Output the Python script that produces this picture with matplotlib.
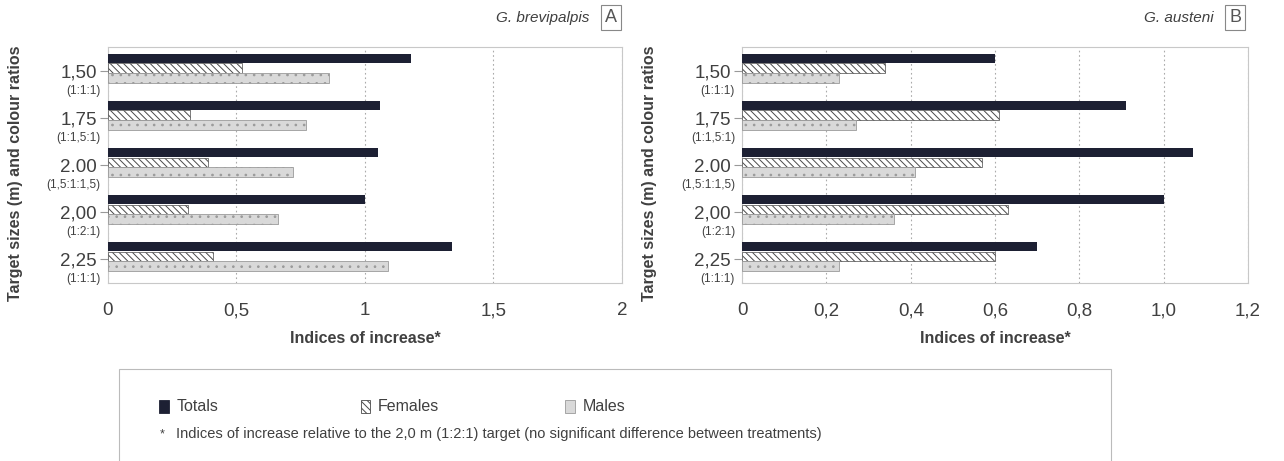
import matplotlib
matplotlib.use("Agg")
import matplotlib.pyplot as plt
import matplotlib.transforms as mtransforms
from matplotlib.patches import Rectangle

plt.rcParams["font.family"] = ["Liberation Sans", "DejaVu Sans"]
plt.rcParams["hatch.linewidth"] = 0.7

# data ---------------------------------------------------------------
sizes_a = ["1,50", "1,75", "2.00", "2,00", "2,25"]
sizes_b = ["1,50", "1,75", "2.00", "2,00", "2,25"]
ratios = ["(1:1:1)", "(1:1,5:1)", "(1,5:1:1,5)", "(1:2:1)", "(1:1:1)"]

totals_a = [1.18, 1.06, 1.05, 1.00, 1.34]
females_a = [0.52, 0.32, 0.39, 0.31, 0.41]
males_a = [0.86, 0.77, 0.72, 0.66, 1.09]

totals_b = [0.60, 0.91, 1.07, 1.00, 0.70]
females_b = [0.34, 0.61, 0.57, 0.63, 0.60]
males_b = [0.23, 0.27, 0.41, 0.36, 0.23]

xticks_a = [0, 0.5, 1, 1.5, 2]
xticklabels_a = ["0", "0,5", "1", "1,5", "2"]
xticks_b = [0, 0.2, 0.4, 0.6, 0.8, 1.0, 1.2]
xticklabels_b = ["0", "0,2", "0,4", "0,6", "0,8", "1,0", "1,2"]

C_TOTAL = "#1d2033"
C_FEMALE_EDGE = "#4a4a4a"
C_MALE = "#d9d9d9"
C_MALE_EDGE = "#9a9a9a"
C_TEXT = "#404040"
HATCH_F = "\\\\\\\\\\"


def draw_panel(ax, sizes, totals, females, males, xticks, xticklabels, xmax):
	pos = list(range(len(sizes)))
	off = 0.21
	h = 0.2
	ax.barh([p - off for p in pos], totals, height=h, color=C_TOTAL, zorder=3)
	ax.barh(pos, females, height=h, color="white", edgecolor=C_FEMALE_EDGE,
		hatch=HATCH_F, linewidth=0.5, zorder=3)
	ax.barh([p + off for p in pos], males, height=h, color=C_MALE,
		edgecolor=C_MALE_EDGE, hatch="..", linewidth=0.6, zorder=3)
	ax.set_xlim(0, xmax)
	ax.set_ylim(4.57, -0.45)
	ax.set_xticks(xticks)
	ax.set_xticklabels(xticklabels, fontsize=13.5, color=C_TEXT)
	ax.set_yticks([p + 0.06 for p in pos])
	ax.set_yticklabels(sizes, fontsize=13.5, color=C_TEXT)
	ax.tick_params(axis="x", length=0, pad=14)
	ax.tick_params(axis="y", length=6, color="#999", pad=2)
	trans = mtransforms.blended_transform_factory(ax.transAxes, ax.transData)
	for p, r in zip(pos, ratios):
		ax.text(-0.014, p + 0.48, r, transform=trans, ha="right", va="center",
			fontsize=8.5, color=C_TEXT)
	ax.grid(axis="x", color="#aaaaaa", linestyle=(0, (1.5, 2.5)), linewidth=0.8, zorder=0)
	for s in ax.spines.values():
		s.set_color("#c8c8c8")
		s.set_linewidth(0.8)
	ax.set_xlabel("Indices of increase*", fontsize=11.5, fontweight="bold",
		color=C_TEXT, labelpad=8)


fig = plt.figure(figsize=(12.84, 4.61), dpi=100)
ax_a = fig.add_axes([0.0841, 0.386, 0.4003, 0.512])
ax_b = fig.add_axes([0.578, 0.386, 0.394, 0.512])

draw_panel(ax_a, sizes_a, totals_a, females_a, males_a, xticks_a, xticklabels_a, 2)
draw_panel(ax_b, sizes_b, totals_b, females_b, males_b, xticks_b, xticklabels_b, 1.2)

fig.text(0.012, 0.625, "Target sizes (m) and colour ratios", rotation=90,
	ha="center", va="center", fontsize=11.5, fontweight="bold", color=C_TEXT)
fig.text(0.506, 0.625, "Target sizes (m) and colour ratios", rotation=90,
	ha="center", va="center", fontsize=11.5, fontweight="bold", color=C_TEXT)

# panel titles with boxed letters
for x_letter, name, letter in [(0.476, "G. brevipalpis", "A"), (0.962, "G. austeni", "B")]:
	fig.text(x_letter, 0.962, letter, ha="center", va="center", fontsize=13,
		color="#555", bbox=dict(boxstyle="square,pad=0.22", fc="white", ec="#888", lw=0.8))
	fig.text(x_letter - 0.017, 0.962, name, ha="right", va="center", fontsize=11,
		style="italic", color=C_TEXT)

# legend box
fig.patches.append(Rectangle((0.093, -0.01), 0.772, 0.21, transform=fig.transFigure,
	fill=False, edgecolor="#bbbbbb", linewidth=0.8))
items = [
	(0.124, "Totals", dict(facecolor=C_TOTAL, edgecolor=C_TOTAL)),
	(0.281, "Females", dict(facecolor="white", edgecolor=C_FEMALE_EDGE, hatch=HATCH_F)),
	(0.440, "Males", dict(facecolor=C_MALE, edgecolor=C_MALE_EDGE)),
]
for x, label, style in items:
	fig.patches.append(Rectangle((x, 0.105), 0.0075, 0.027, transform=fig.transFigure,
		linewidth=0.6, **style))
	fig.text(x + 0.0135, 0.119, label, ha="left", va="center", fontsize=11.5, color=C_TEXT)
fig.text(0.126, 0.057, "*", ha="center", va="center", fontsize=9, color=C_TEXT)
fig.text(0.137, 0.058,
	"Indices of increase relative to the 2,0 m (1:2:1) target (no significant difference between treatments)",
	ha="left", va="center", fontsize=10.5, color=C_TEXT)

fig.savefig("out.png", dpi=100)
